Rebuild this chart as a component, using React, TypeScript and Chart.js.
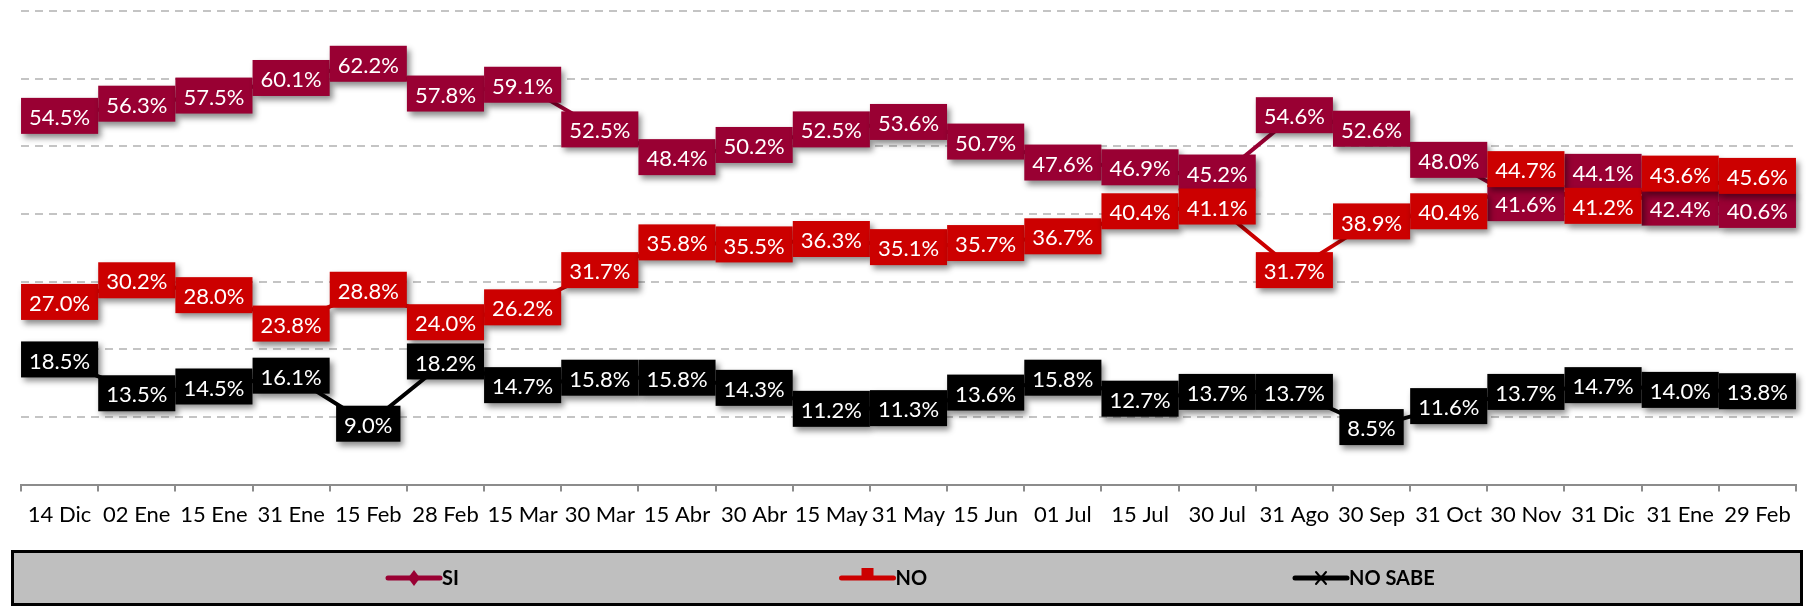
import React, { useEffect, useRef } from "react";
import { Chart, registerables } from "chart.js";

Chart.register(...registerables);

const categories = [
  "14 Dic", "02 Ene", "15 Ene", "31 Ene", "15 Feb", "28 Feb", "15 Mar", "30 Mar",
  "15 Abr", "30 Abr", "15 May", "31 May", "15 Jun", "01 Jul", "15 Jul", "30 Jul",
  "31 Ago", "30 Sep", "31 Oct", "30 Nov", "31 Dic", "31 Ene", "29 Feb",
];

const siValues = [
  54.5, 56.3, 57.5, 60.1, 62.2, 57.8, 59.1, 52.5, 48.4, 50.2, 52.5, 53.6,
  50.7, 47.6, 46.9, 45.2, 54.6, 52.6, 48.0, 41.6, 44.1, 42.4, 40.6,
];

const noValues = [
  27.0, 30.2, 28.0, 23.8, 28.8, 24.0, 26.2, 31.7, 35.8, 35.5, 36.3, 35.1,
  35.7, 36.7, 40.4, 41.1, 31.7, 38.9, 40.4, 44.7, 41.2, 43.6, 45.6,
];

const noSabeValues = [
  18.5, 13.5, 14.5, 16.1, 9.0, 18.2, 14.7, 15.8, 15.8, 14.3, 11.2, 11.3,
  13.6, 15.8, 12.7, 13.7, 13.7, 8.5, 11.6, 13.7, 14.7, 14.0, 13.8,
];

const seriesNames = ["SI", "NO", "NO SABE"];
const seriesColors = ["#990033", "#cc0000", "#000000"];
const markerKinds = ["diamond", "square", "cross"];

const FONT = "Lato, 'Open Sans', sans-serif";

const BOX_H = 36;
const MIN_SEP = 34;
const MAX_UP = 16;

const boxLabelPlugin = {
  id: "boxLabels",
  afterDatasetsDraw(chart: any) {
    const ctx = chart.ctx;
    ctx.save();
    ctx.font = `22px ${FONT}`;
    ctx.textAlign = "center";
    ctx.textBaseline = "middle";
    const nDs = chart.data.datasets.length;
    const nPts = chart.data.labels.length;
    // label centres, start at the point, then push apart overlapping boxes in a column
    const centres: number[][] = [];
    for (let d = 0; d < nDs; d++) {
      const meta = chart.getDatasetMeta(d);
      centres.push(meta.data.map((p: any) => p.y));
    }
    for (let i = 0; i < nPts; i++) {
      const order = Array.from({ length: nDs }, (_, d) => d).sort(
        (a, b) => centres[a][i] - centres[b][i]
      );
      for (let k = 0; k < order.length - 1; k++) {
        const up = order[k];
        const lo = order[k + 1];
        const sep = centres[lo][i] - centres[up][i];
        if (sep < MIN_SEP) {
          const deficit = MIN_SEP - sep;
          const u = Math.min(deficit, MAX_UP);
          centres[up][i] -= u;
          centres[lo][i] += deficit - u;
        }
      }
    }
    chart.data.datasets.forEach((ds: any, di: number) => {
      const meta = chart.getDatasetMeta(di);
      meta.data.forEach((pt: any, i: number) => {
        const v = ds.data[i];
        const text = v.toFixed(1) + "%";
        const tw = ctx.measureText(text).width;
        const w = tw + 16;
        const cy = centres[di][i];
        const x = pt.x - w / 2;
        const y = cy - BOX_H / 2;
        ctx.save();
        ctx.shadowColor = "rgba(0,0,0,0.45)";
        ctx.shadowBlur = 6;
        ctx.shadowOffsetX = 3;
        ctx.shadowOffsetY = 4;
        ctx.fillStyle = ds.borderColor;
        ctx.fillRect(x, y, w, BOX_H);
        ctx.restore();
        ctx.fillStyle = "#ffffff";
        ctx.fillText(text, pt.x, cy + 2);
      });
    });
    ctx.restore();
  },
};

const legendBoxPlugin = {
  id: "legendBox",
  afterDraw(chart: any) {
    const ctx = chart.ctx;
    ctx.save();
    const bx = 12.5, by = 551.5, bw = 1789, bh = 53;
    ctx.fillStyle = "#bfbfbf";
    ctx.fillRect(bx, by, bw, bh);
    ctx.lineWidth = 3;
    ctx.strokeStyle = "#000000";
    ctx.strokeRect(bx, by, bw, bh);
    const cy = by + bh / 2;
    chart.data.datasets.forEach((ds: any, i: number) => {
      const sx = 388 + i * 453.5;
      const col = ds.borderColor;
      ctx.strokeStyle = col;
      ctx.lineWidth = 5;
      ctx.lineCap = "round";
      ctx.beginPath();
      ctx.moveTo(sx, cy);
      ctx.lineTo(sx + 52, cy);
      ctx.stroke();
      const mx = sx + 26;
      ctx.fillStyle = col;
      if (markerKinds[i] === "diamond") {
        ctx.beginPath();
        ctx.moveTo(mx, cy - 8);
        ctx.lineTo(mx + 6, cy);
        ctx.lineTo(mx, cy + 8);
        ctx.lineTo(mx - 6, cy);
        ctx.closePath();
        ctx.fill();
      } else if (markerKinds[i] === "square") {
        ctx.fillRect(mx - 6, cy - 10, 12, 12);
      } else {
        ctx.lineWidth = 2;
        ctx.beginPath();
        ctx.moveTo(mx - 5, cy - 6);
        ctx.lineTo(mx + 5, cy + 6);
        ctx.moveTo(mx + 5, cy - 6);
        ctx.lineTo(mx - 5, cy + 6);
        ctx.stroke();
      }
      ctx.fillStyle = "#000000";
      ctx.font = `bold 20px ${FONT}`;
      ctx.textAlign = "left";
      ctx.textBaseline = "middle";
      ctx.fillText(ds.label, sx + 54, cy + 1);
    });
    ctx.restore();
  },
};

export default function App() {
  const ref = useRef<HTMLCanvasElement | null>(null);

  useEffect(() => {
    document.body.style.margin = "0";
    const canvas = ref.current;
    if (!canvas) return;
    const valuesList = [siValues, noValues, noSabeValues];
    const chart = new Chart(canvas, {
      type: "line",
      data: {
        labels: categories,
        datasets: valuesList.map((vals, i) => ({
          label: seriesNames[i],
          data: vals,
          borderColor: seriesColors[i],
          backgroundColor: seriesColors[i],
          borderWidth: 4,
          pointRadius: 0,
          tension: 0,
        })),
      },
      options: {
        responsive: false,
        animation: false,
        layout: { padding: { left: 21, right: 10, top: 11, bottom: 70 } },
        plugins: {
          legend: { display: false },
          tooltip: { enabled: false },
        },
        scales: {
          x: {
            offset: true,
            grid: {
              offset: true,
              drawOnChartArea: false,
              drawTicks: true,
              tickLength: 7,
              color: "#8c8c8c",
              lineWidth: 2,
            },
            border: { color: "#8c8c8c", width: 2 },
            ticks: {
              font: { family: FONT, size: 22 },
              color: "#000000",
              padding: 10,
              maxRotation: 0,
              minRotation: 0,
              autoSkip: false,
            },
          },
          y: {
            min: 0,
            max: 70,
            ticks: { stepSize: 10, display: false },
            grid: {
              drawTicks: false,
              lineWidth: 2,
              color: (c: any) => (c.tick && c.tick.value === 0 ? "rgba(0,0,0,0)" : "#c4c4c4"),
            },
            border: { display: false, dash: [8, 6] },
          },
        },
      },
      plugins: [boxLabelPlugin, legendBoxPlugin],
    });
    return () => chart.destroy();
  }, []);

  return <canvas ref={ref} width={1806} height={608} style={{ display: "block" }} />;
}
